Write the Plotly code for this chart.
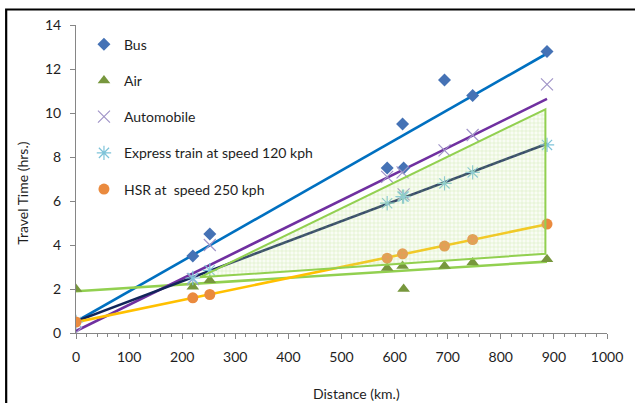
import numpy as np
import plotly.graph_objects as go

# Route distances (km) and travel times (hours) per mode
distance_km = [0, 220, 252, 586, 615, 617, 694, 747, 887]
bus_hrs = [None, 3.5, 4.5, 7.5, 9.5, 7.5, 11.5, 10.8, 12.8]
air_hrs = [2.0, 2.1, 2.4, 2.95, 3.05, 2.0, 3.05, 3.2, 3.35]
auto_hrs = [0.0, 2.45, 4.0, 7.1, 7.3, 6.3, 8.3, 9.0, 11.3]
express_hrs = [0.5, 2.5, 2.85, 5.9, 6.2, 6.2, 6.8, 7.3, 8.55]
hsr_hrs = [0.5, 1.6, 1.75, 3.4, 3.6, None, 3.95, 4.25, 4.95]

# Highlighted band (distance, time) outline
band_km = [233, 884, 884, 233]
band_hrs = [2.53, 10.17, 3.6, 2.53]

x_ticks = [0, 100, 200, 300, 400, 500, 600, 700, 800, 900, 1000]
y_ticks = [0, 2, 4, 6, 8, 10, 12, 14]

FONT = "Lato"
TEXT = "#1e1e1e"

series = [
    ("Bus", bus_hrs, "#0070c0",
     dict(symbol="diamond", size=10, color="#4572b5")),
    ("Air", air_hrs, "#92d050",
     dict(symbol="triangle-up", size=11, color="#77973d")),
    ("Automobile", auto_hrs, "#7030a0",
     dict(symbol="x-thin", size=12, line=dict(color="#a195c8", width=1.2))),
    ("Express train at speed 120 kph", express_hrs, "#12255a",
     dict(symbol="asterisk", size=12, line=dict(color="#7ec3d9", width=1.2))),
    ("HSR at  speed 250 kph", hsr_hrs, "#ffc000",
     dict(symbol="circle", size=11, color="#ea8a3e")),
]

fig = go.Figure()

# Linear trend line for each mode, fitted to its own points
for name, vals, line_color, _ in series:
    pts = [(d, v) for d, v in zip(distance_km, vals) if v is not None]
    xs = np.array([p[0] for p in pts], dtype=float)
    ys = np.array([p[1] for p in pts], dtype=float)
    slope, intercept = np.polyfit(xs, ys, 1)
    x_line = np.array([0.0, max(distance_km)])
    fig.add_trace(go.Scatter(
        x=x_line, y=intercept + slope * x_line, mode="lines",
        line=dict(color=line_color, width=2.6),
        showlegend=False, hoverinfo="skip"))

# Data points
for i, (name, vals, _, marker) in enumerate(series):
    fig.add_trace(go.Scatter(
        x=distance_km, y=vals, mode="markers", name=name,
        marker=marker, legendgroup=f"g{i}"))

# Shaded band drawn over the points
fig.add_trace(go.Scatter(
    x=band_km, y=band_hrs, mode="lines", fill="toself",
    line=dict(color="#92d050", width=2),
    fillcolor="rgba(0,0,0,0)",
    fillpattern=dict(shape="+", size=4, solidity=0.35,
                     fgcolor="rgba(146,208,80,0.5)",
                     bgcolor="rgba(220,240,200,0.18)"),
    showlegend=False, hoverinfo="skip"))

axis_common = dict(
    showgrid=False, zeroline=False, showline=True, linecolor="#868686",
    linewidth=1, ticks="outside", tickcolor="#868686", ticklen=5,
    tickfont=dict(family=FONT, size=14, color=TEXT),
)

fig.update_xaxes(
    range=[0, 1000], tickvals=x_ticks, ticklabelstandoff=6, **axis_common,
    minor=dict(dtick=20, ticks="outside", ticklen=3, tickcolor="#868686"),
)
fig.update_yaxes(range=[0, 14], tickvals=y_ticks, ticklabelstandoff=6,
                 **axis_common)

fig.update_layout(
    width=635, height=403,
    margin=dict(l=76, r=19, t=25, b=70),
    plot_bgcolor="white", paper_bgcolor="white",
    showlegend=True,
    legend=dict(
        x=0.015, y=0.988, xanchor="left", yanchor="top",
        bgcolor="rgba(0,0,0,0)",
        font=dict(family=FONT, size=14, color=TEXT),
        tracegroupgap=15,
    ),
    annotations=[
        dict(text="Travel Time (hrs.)", xref="paper", yref="paper",
             x=-0.10, y=0.455, textangle=-90, showarrow=False,
             xanchor="center", yanchor="middle",
             font=dict(family=FONT, size=14, color=TEXT)),
        dict(text="Distance (km.)", xref="paper", yref="paper",
             x=0.528, y=-0.195, showarrow=False,
             xanchor="center", yanchor="middle",
             font=dict(family=FONT, size=14, color=TEXT)),
    ],
    shapes=[
        dict(type="rect", xref="paper", yref="paper",
             x0=-0.1315, x1=1.2, y0=-0.4, y1=1.0503,
             line=dict(color="black", width=2.2), layer="above"),
    ],
)

fig.write_html("out.html")
